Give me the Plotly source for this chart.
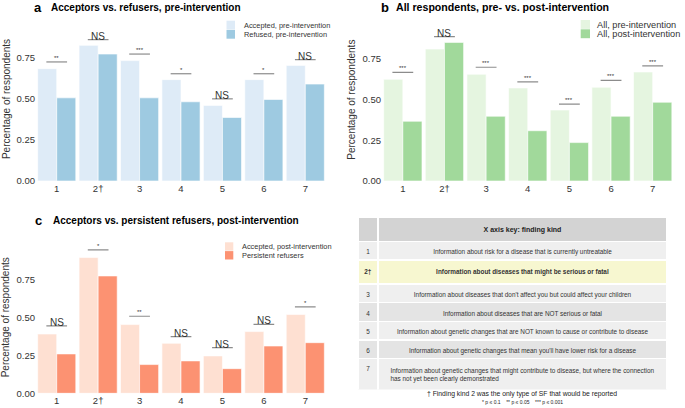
import plotly.graph_objects as go

W, H = 685, 408
FONT = "Liberation Sans, Arial, sans-serif"

categories = ["1", "2†", "3", "4", "5", "6", "7"]

# Panel a
a_accepted = [0.685, 0.827, 0.734, 0.618, 0.461, 0.618, 0.705]
a_refused = [0.507, 0.774, 0.507, 0.483, 0.387, 0.497, 0.591]
a_sig_y = [0.726, 0.862, 0.774, 0.654, 0.501, 0.654, 0.740]
a_sig_lab = ["**", "NS", "***", "*", "NS", "*", "NS"]

# Panel b
b_pre = [0.625, 0.811, 0.656, 0.572, 0.436, 0.576, 0.670]
b_post = [0.367, 0.852, 0.398, 0.309, 0.236, 0.398, 0.484]
b_sig_y = [0.668, 0.887, 0.699, 0.609, 0.473, 0.619, 0.707]
b_sig_lab = ["***", "NS", "***", "***", "***", "***", "***"]

# Panel c
c_accepted = [0.390, 0.893, 0.452, 0.329, 0.246, 0.406, 0.518]
c_persist = [0.259, 0.772, 0.189, 0.213, 0.162, 0.311, 0.333]
c_sig_y = [0.443, 0.943, 0.507, 0.373, 0.300, 0.454, 0.568]
c_sig_lab = ["NS", "*", "**", "NS", "NS", "NS", "*"]

# Table
key_ids = ["1", "2†", "3", "4", "5", "6", "7"]
key_text = [
    "Information about risk for a disease that is currently untreatable",
    "Information about diseases that might be serious or fatal",
    "Information about diseases that don't affect you but could affect your children",
    "Information about diseases that are NOT serious or fatal",
    "Information about genetic changes that are NOT known to cause or contribute to disease",
    "Information about genetic changes that mean you'll have lower risk for a disease",
    "Information about genetic changes that might contribute to disease, but where the connection<br>has not yet been clearly demonstrated",
]

def px_x(p):
    return p / W

def px_y(p):
    return 1 - p / H

fig = go.Figure()

panels = [
    dict(xa="x", ya="y", s1=a_accepted, s2=a_refused,
         n1="Accepted, pre-intervention", n2="Refused, pre-intervention",
         c1="#deebf7", c2="#9ecae1", sy=a_sig_y, sl=a_sig_lab,
         leg=(226.5, 235, 20.7, 9.2, 241.5, 7.4)),
    dict(xa="x2", ya="y2", s1=b_pre, s2=b_post,
         n1="All, pre-intervention", n2="All, post-intervention",
         c1="#e5f5e0", c2="#a1d99b", sy=b_sig_y, sl=b_sig_lab,
         leg=(580.7, 590, 20.0, 9.3, 594.5, 9.2)),
    dict(xa="x3", ya="y3", s1=c_accepted, s2=c_persist,
         n1="Accepted, post-intervention", n2="Persistent refusers",
         c1="#fee0d2", c2="#fc9272", sy=c_sig_y, sl=c_sig_lab,
         leg=(225, 233.3, 242.3, 8.8, 239.5, 7.4)),
]

for p in panels:
    lx0, lx1, ly0, lh, ltx, lfs = p["leg"]
    for k, (vals, name, col) in enumerate([(p["s1"], p["n1"], p["c1"]), (p["s2"], p["n2"], p["c2"])]):
        fig.add_trace(go.Bar(
            x=categories, y=vals, name=name, marker_color=col,
            marker_line=dict(color="white", width=0.6),
            xaxis=p["xa"], yaxis=p["ya"], showlegend=False, hoverinfo="skip",
        ))
        # legend key
        top = ly0 + k * lh
        fig.add_shape(type="rect", xref="paper", yref="paper",
                      x0=px_x(lx0), x1=px_x(lx1), y0=px_y(top + lh - 0.4), y1=px_y(top),
                      fillcolor=col, line=dict(width=0))
        fig.add_annotation(x=px_x(ltx), y=px_y(top + lh / 2), xref="paper", yref="paper",
                           text=name, showarrow=False, xanchor="left", yanchor="middle",
                           font=dict(size=lfs, color="#333333", family=FONT))
    for i, (yv, lab) in enumerate(zip(p["sy"], p["sl"])):
        fig.add_shape(type="line", xref=p["xa"], yref=p["ya"],
                      x0=i - 0.25, x1=i + 0.25, y0=yv, y1=yv,
                      line=dict(color="#8c8c8c", width=1.2))
        if lab == "NS":
            fig.add_annotation(x=i, y=yv, xref=p["xa"], yref=p["ya"], text="NS",
                               showarrow=False, yanchor="bottom", yshift=-4,
                               font=dict(size=10, color="#333333", family=FONT))
        else:
            fig.add_annotation(x=i, y=yv, xref=p["xa"], yref=p["ya"], text=lab,
                               showarrow=False, yanchor="bottom", yshift=-1,
                               font=dict(size=6, color="#333333", family=FONT))

# Table
row_fill = ["#efefef", "#f7f7d0", "#efefef", "#e4e4e4", "#efefef", "#e4e4e4", "#efefef"]
fig.add_trace(go.Table(
    domain=dict(x=[px_x(358), px_x(667)], y=[px_y(390), px_y(217.5)]),
    columnwidth=[20, 289],
    header=dict(values=["", "<b>X axis key: finding kind</b>"],
                fill_color="#d3d3d3", line=dict(color="white", width=1.5),
                align="center", height=14,
                font=dict(size=7, color="#222222", family=FONT)),
    cells=dict(values=[
        [("<b>%s</b>" % k if k == "2†" else k) for k in key_ids],
        [("<b>%s</b>" % t if k == "2†" else t) for k, t in zip(key_ids, key_text)],
    ],
        fill_color=[row_fill, row_fill],
        line=dict(color="white", width=1.5),
        align="center", height=18.6,
        font=dict(size=6.4, color="#333333", family=FONT)),
))

yt = dict(range=[0, 1], tickvals=[0, 0.25, 0.5, 0.75],
          ticktext=["0.00", "0.25", "0.50", "0.75"], automargin=False,
          showgrid=False, zeroline=False, showline=False, ticks="",
          tickfont=dict(size=9.5, color="#333333", family=FONT),
          title=dict(text="Percentage of respondents", standoff=4,
                     font=dict(size=10, color="#333333", family=FONT)))
xt = dict(showgrid=False, zeroline=False, showline=False, ticks="", automargin=False,
          tickfont=dict(size=9.5, color="#333333", family=FONT))

fig.update_layout(
    width=W, height=H, margin=dict(l=0, r=0, t=0, b=0),
    paper_bgcolor="white", plot_bgcolor="white",
    barmode="group", bargap=0.08, bargroupgap=0,
    font=dict(family=FONT), showlegend=False,
    xaxis=dict(domain=[px_x(36), px_x(326)], anchor="y", **xt),
    yaxis=dict(domain=[px_y(181), px_y(17)], anchor="x", **yt),
    xaxis2=dict(domain=[px_x(382), px_x(673.5)], anchor="y2", **xt),
    yaxis2=dict(domain=[px_y(181), px_y(18.3)], anchor="x2", **yt),
    xaxis3=dict(domain=[px_x(36), px_x(326)], anchor="y3", **xt),
    yaxis3=dict(domain=[px_y(393.3), px_y(241.3)], anchor="x3", **yt),
)

titles = [
    (32, 7, "a", "Acceptors vs. refusers, pre-intervention", 49, 10),
    (379, 7, "b", "All respondents, pre- vs. post-intervention", 394, 10.6),
    (33, 221, "c", "Acceptors vs. persistent refusers, post-intervention", 51, 10),
]
for lx, ly, letter, text, tx, fs in titles:
    fig.add_annotation(x=px_x(lx), y=px_y(ly), xref="paper", yref="paper",
                       text="<b>%s</b>" % letter, showarrow=False,
                       xanchor="left", yanchor="middle",
                       font=dict(size=13, color="black", family=FONT))
    fig.add_annotation(x=px_x(tx), y=px_y(ly), xref="paper", yref="paper",
                       text="<b>%s</b>" % text, showarrow=False,
                       xanchor="left", yanchor="middle",
                       font=dict(size=fs, color="black", family=FONT))

fig.add_annotation(x=px_x(522), y=px_y(393.5), xref="paper", yref="paper",
                   text="† Finding kind 2 was the only type of SF that would be reported",
                   showarrow=False, xanchor="center", yanchor="middle",
                   font=dict(size=6.8, color="#222222", family=FONT))
fig.add_annotation(x=px_x(522), y=px_y(401.5), xref="paper", yref="paper",
                   text="* p ≤ 0.1    ** p ≤ 0.05    *** p ≤ 0.001",
                   showarrow=False, xanchor="center", yanchor="middle",
                   font=dict(size=5, color="#222222", family=FONT))

fig.write_html("out.html", config={"displayModeBar": False},
               post_script="document.body.style.margin='0';document.body.style.overflow='hidden';")
